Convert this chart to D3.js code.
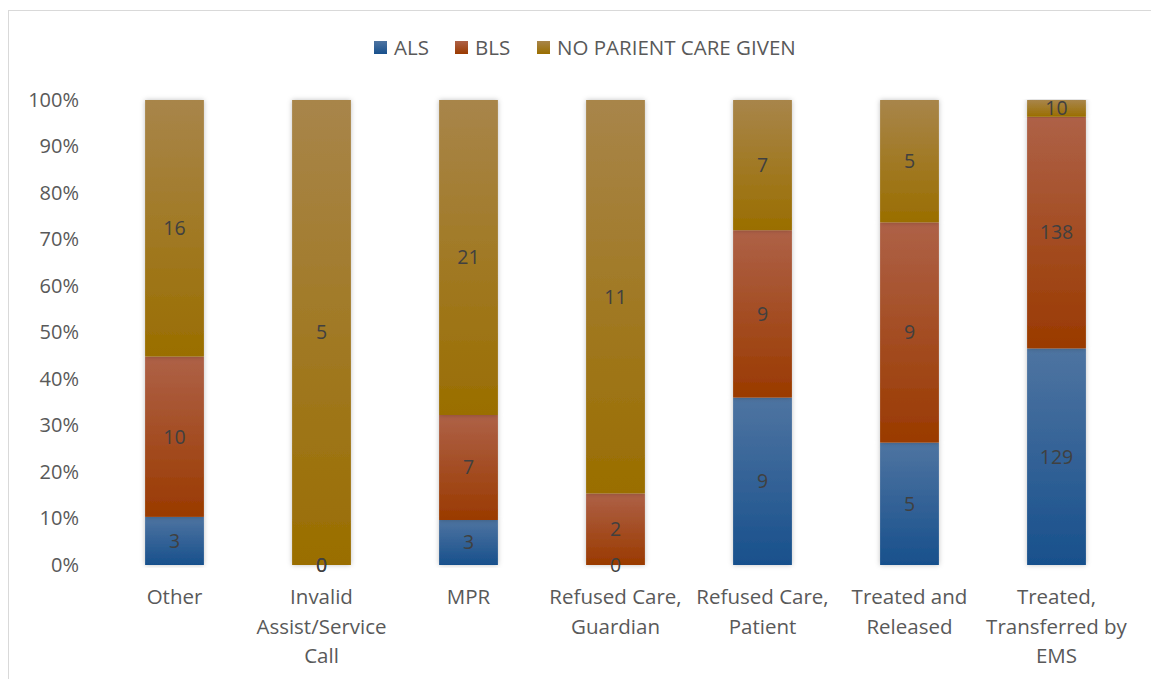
<!DOCTYPE html>
<html>
<head>
<meta charset="utf-8">
<script src="https://cdn.jsdelivr.net/npm/d3@7"></script>
<style>
  body { margin: 0; background: #fff; }
  text { font-family: "Open Sans", Lato, sans-serif; }
</style>
</head>
<body>
<script>
// chart data
var categories = ["Other", "Invalid Assist/Service Call", "MPR", "Refused Care, Guardian",
                  "Refused Care, Patient", "Treated and Released", "Treated, Transferred by EMS"];
var categoryLines = [["Other"], ["Invalid", "Assist/Service", "Call"], ["MPR"],
                     ["Refused Care,", "Guardian"], ["Refused Care,", "Patient"],
                     ["Treated and", "Released"], ["Treated,", "Transferred by", "EMS"]];
var seriesNames = ["ALS", "BLS", "NO PARIENT CARE GIVEN"];
var als = [3, 0, 3, 0, 9, 5, 129];
var bls = [10, 0, 7, 2, 9, 9, 138];
var noCare = [16, 5, 21, 11, 7, 5, 10];
var yTicks = [0, 0.1, 0.2, 0.3, 0.4, 0.5, 0.6, 0.7, 0.8, 0.9, 1];

var width = 1151;
var height = 679;

var svg = d3.select("body").append("svg")
    .attr("width", width)
    .attr("height", height);

var defs = svg.append("defs");

// gradient for each series (lighter at top)
var gradColors = [["#4e74a1", "#18508c"], ["#ae6147", "#9a3a00"], ["#a8854a", "#9a6e00"]];
gradColors.forEach(function(c, i) {
    var g = defs.append("linearGradient")
        .attr("id", "grad" + i)
        .attr("x1", 0).attr("y1", 0).attr("x2", 0).attr("y2", 1);
    g.append("stop").attr("offset", "0%").attr("stop-color", c[0]);
    g.append("stop").attr("offset", "100%").attr("stop-color", c[1]);
});

var shadow = defs.append("filter").attr("id", "shadow")
    .attr("x", "-20%").attr("y", "-5%").attr("width", "140%").attr("height", "110%");
shadow.append("feDropShadow")
    .attr("dx", 0).attr("dy", 0).attr("stdDeviation", 2.5)
    .attr("flood-color", "#000").attr("flood-opacity", 0.25);

// chart border
svg.append("rect")
    .attr("x", 8.5).attr("y", 10.5)
    .attr("width", 1160).attr("height", 700)
    .attr("fill", "none")
    .attr("stroke", "#d9d9d9");

var plotLeft = 101, plotRight = 1130, plotTop = 100, plotBottom = 565;

var x = d3.scaleBand()
    .domain(categories)
    .range([plotLeft, plotRight])
    .paddingInner(0.6)
    .paddingOuter(0.3);

var y = d3.scaleLinear()
    .domain([0, 1])
    .range([plotBottom, plotTop]);

// build table and stack as percentages
var table = categories.map(function(c, i) {
    var total = als[i] + bls[i] + noCare[i];
    return { cat: c, ALS: als[i] / total, BLS: bls[i] / total,
             "NO PARIENT CARE GIVEN": noCare[i] / total,
             raw: [als[i], bls[i], noCare[i]] };
});

var stack = d3.stack().keys(seriesNames);
var layers = stack(table);

// y axis labels
var yAxis = svg.append("g")
    .attr("transform", "translate(" + 79 + ",0)")
    .call(d3.axisLeft(y).tickValues(yTicks).tickFormat(d3.format(".0%")).tickSize(0).tickPadding(0));
yAxis.select(".domain").remove();
yAxis.selectAll("text")
    .attr("fill", "#595959")
    .style("font-size", "20px")
    .style("font-family", "'Open Sans', Lato, sans-serif");

// baseline
svg.append("line")
    .attr("x1", plotLeft).attr("x2", plotRight - 3)
    .attr("y1", plotBottom + 1).attr("y2", plotBottom + 1)
    .attr("stroke", "#d9d9d9")
    .attr("stroke-width", 1.5)
    .attr("filter", "url(#shadow)");

// bars
var groups = svg.selectAll("g.layer")
    .data(layers)
    .enter().append("g")
    .attr("class", "layer");

groups.selectAll("rect")
    .data(function(d) { return d; })
    .enter().append("rect")
    .attr("x", function(d) { return x(d.data.cat); })
    .attr("width", x.bandwidth())
    .attr("y", function(d) { return y(d[1]); })
    .attr("height", function(d) { return y(d[0]) - y(d[1]); })
    .attr("fill", function(d, i, nodes) {
        return "url(#grad" + seriesNames.indexOf(d3.select(nodes[i].parentNode).datum().key) + ")";
    })
    .attr("filter", "url(#shadow)");

// data labels
layers.forEach(function(layer, s) {
    svg.append("g").selectAll("text")
        .data(layer)
        .enter().append("text")
        .attr("x", function(d) { return x(d.data.cat) + x.bandwidth() / 2; })
        .attr("y", function(d) { return (y(d[0]) + y(d[1])) / 2; })
        .attr("dy", "0.35em")
        .attr("text-anchor", "middle")
        .attr("fill", "#404040")
        .style("font-size", "19.5px")
        .text(function(d) { return d.data.raw[s]; });
});

// x labels
categories.forEach(function(c, i) {
    var t = svg.append("text")
        .attr("x", x(c) + x.bandwidth() / 2)
        .attr("y", 604)
        .attr("text-anchor", "middle")
        .attr("fill", "#595959")
        .style("font-size", "20.5px");
    categoryLines[i].forEach(function(line, j) {
        t.append("tspan")
            .attr("x", x(c) + x.bandwidth() / 2)
            .attr("dy", j === 0 ? 0 : 29.5)
            .text(line);
    });
});

// legend
var legendX = [374, 455, 537];
var legend = svg.append("g");
seriesNames.forEach(function(name, i) {
    legend.append("rect")
        .attr("x", legendX[i]).attr("y", 41)
        .attr("width", 13).attr("height", 13)
        .attr("fill", "url(#grad" + i + ")");
    legend.append("text")
        .attr("x", legendX[i] + 20).attr("y", 48)
        .attr("dy", "0.35em")
        .attr("fill", "#595959")
        .style("font-size", "20.5px")
        .text(name);
});
</script>
</body>
</html>
